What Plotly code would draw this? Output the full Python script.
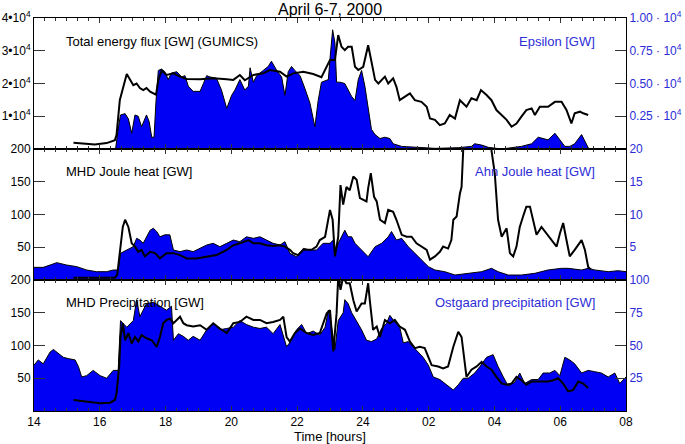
import plotly.graph_objects as go

# ---------------- data (hours since 00 UT April 6; >24 = April 7) ----------------
t_flux = [15.20, 15.50, 15.85, 16.21, 16.46, 16.51, 16.61, 16.82, 16.92, 17.02, 17.12, 17.22, 17.32, 17.42,
          17.53, 17.63, 17.71, 17.78, 17.88, 18.03, 18.24, 18.44, 18.64, 19.05, 19.45, 19.86, 20.06, 20.26,
          20.41, 20.67, 20.97, 21.17, 21.48, 21.68, 21.88, 22.19, 22.49, 22.74, 22.90, 23.00, 23.15, 23.25,
          23.35, 23.45, 23.55, 23.66, 23.76, 23.86, 24.01, 24.16, 24.26, 24.37, 24.47, 24.57, 24.67, 24.77,
          24.92, 25.02, 25.12, 25.28, 25.43, 25.58, 25.78, 25.94, 26.04, 26.19, 26.34, 26.49, 26.64, 26.80,
          26.95, 27.15, 27.30, 27.46, 27.59, 27.76, 27.91, 28.06, 28.22, 28.37, 28.52, 28.67, 28.82, 28.97,
          29.13, 29.23, 29.38, 29.63, 29.84, 30.04, 30.19, 30.34, 30.44, 30.60, 30.70, 30.85]
flux_gw = [1900, 1700, 1400, 1800, 2700, 4300, 15000, 22900, 21000, 19500, 20000, 18600, 18000, 18600,
           17500, 17000, 16600, 21000, 23900, 22600, 23100, 22100, 21400, 21300, 21600, 21300, 21100, 22600,
           21000, 22600, 23100, 24100, 23600, 22100, 23100, 23600, 22900, 21900, 25100, 27200, 27200, 34800,
           31200, 30200, 31200, 31200, 25100, 24100, 25100, 31700, 26700, 21100, 20000, 21100, 22100, 20000,
           21600, 19000, 14900, 16000, 17000, 14900, 14400, 12900, 9300, 8900, 7300, 7800, 10400, 9300,
           14900, 12900, 15500, 14900, 18000, 16500, 14900, 11900, 10400, 8900, 6800, 7800, 9900, 11900,
           12400, 10400, 12900, 12900, 14400, 14400, 11900, 7800, 10900, 11400, 10900, 10400]

t_eps = [14.00, 16.48, 16.57, 16.63, 16.77, 16.87, 16.97, 17.07, 17.17, 17.27, 17.42, 17.50, 17.58, 17.65,
         17.71, 17.78, 17.88, 17.98, 18.08, 18.18, 18.34, 18.49, 18.59, 18.69, 18.84, 19.05, 19.15, 19.25,
         19.35, 19.55, 19.70, 19.86, 20.01, 20.11, 20.26, 20.41, 20.52, 20.57, 20.67, 20.77, 20.97, 21.12,
         21.22, 21.38, 21.53, 21.63, 21.73, 21.83, 21.93, 22.09, 22.24, 22.39, 22.54, 22.64, 22.74, 22.95,
         23.00, 23.08, 23.15, 23.20, 23.30, 23.45, 23.66, 23.76, 23.86, 23.96, 24.06, 24.16, 24.26, 24.37,
         24.52, 24.67, 24.82, 24.92, 25.18, 26.19, 26.90, 27.30, 27.40, 27.61, 27.81, 28.22, 28.82, 29.13,
         29.33, 29.63, 29.84, 29.99, 30.14, 30.29, 30.44, 30.65, 30.80, 30.87, 32.00]
eps_gw = [0, 0, 1700, 2600, 2700, 2300, 1200, 2600, 2500, 1700, 2600, 2100, 900, 900,
          3700, 6000, 6100, 5900, 5300, 5800, 5900, 5500, 5600, 4800, 4400, 4400, 5000, 5600,
          5500, 5400, 4500, 3100, 4100, 4500, 5300, 4500, 4800, 6200, 5100, 5600, 6000, 6300,
          6700, 6000, 5500, 4100, 5900, 6300, 6000, 5600, 4600, 3500, 1700, 3700, 5100, 5300,
          6900, 9100, 8100, 5100, 5100, 5000, 4000, 3700, 5300, 6000, 4800, 3000, 1500, 1100,
          800, 900, 800, 400, 200, 50, 100, 200, 400, 300, 130, 0, 200, 400,
          900, 700, 1200, 700, 200, 200, 400, 1100, 400, 0, 0]

t_mhdj = [15.20, 16.46, 16.53, 16.59, 16.70, 16.77, 16.87, 16.97, 17.07, 17.17, 17.27, 17.37, 17.53, 17.68,
          17.83, 18.03, 18.24, 18.44, 18.64, 18.94, 19.25, 19.55, 19.86, 20.06, 20.26, 20.52, 20.67, 20.87,
          21.07, 21.27, 21.48, 21.63, 21.78, 21.88, 22.03, 22.19, 22.44, 22.59, 22.69, 22.85, 23.00, 23.08,
          23.15, 23.25, 23.32, 23.40, 23.50, 23.60, 23.71, 23.81, 23.91, 24.01, 24.11, 24.16, 24.24, 24.34,
          24.42, 24.52, 24.67, 24.77, 24.92, 25.02, 25.18, 25.33, 25.48, 25.63, 25.78, 25.94, 26.04, 26.19,
          26.34, 26.44, 26.59, 26.69, 26.75, 26.85, 26.95, 27.00, 27.05, 27.12, 27.81, 27.91, 28.01, 28.11,
          28.22, 28.32, 28.37, 28.47, 28.57, 28.67, 28.77, 28.87, 28.97, 29.08, 29.18, 29.28, 29.43, 29.58,
          29.73, 29.89, 29.99, 30.09, 30.19, 30.29, 30.44, 30.65, 30.75, 30.85, 30.93]
mhdj_gw = [3.6, 3.6, 7.6, 30.5, 81, 92, 81, 56, 51, 43, 46, 36, 43, 41,
           33, 41, 41, 38, 33, 33, 36, 38, 46, 53, 56, 61, 56, 56,
           53, 52, 53, 51, 46, 41, 38, 46, 46, 51, 61, 66, 107, 92,
           36, 66, 145, 115, 142, 137, 158, 153, 125, 122, 120, 140, 163, 127,
           120, 92, 87, 107, 104, 92, 69, 66, 66, 56, 51, 46, 31, 36,
           43, 51, 48, 61, 92, 97, 132, 142, 198, 280, 280, 198, 163, 92,
           66, 76, 79, 41, 36, 51, 81, 97, 112, 112, 92, 69, 81, 71,
           61, 51, 71, 87, 61, 36, 46, 61, 46, 20, 16]

t_ahn = [14.00, 14.28, 14.49, 14.69, 14.99, 15.30, 15.60, 15.90, 16.21, 16.41, 16.56, 16.63, 16.82, 17.02,
         17.12, 17.22, 17.32, 17.42, 17.53, 17.63, 17.73, 17.83, 17.98, 18.13, 18.24, 18.44, 18.64, 18.84,
         19.05, 19.25, 19.45, 19.65, 19.86, 20.06, 20.26, 20.46, 20.67, 20.87, 21.07, 21.27, 21.48, 21.63,
         21.78, 21.98, 22.19, 22.39, 22.59, 22.79, 23.00, 23.10, 23.15, 23.25, 23.45, 23.55, 23.66, 23.76,
         23.96, 24.16, 24.37, 24.57, 24.77, 24.87, 25.02, 25.18, 25.38, 25.58, 25.78, 25.99, 26.19, 26.49,
         26.80, 27.20, 27.61, 27.91, 28.11, 28.42, 28.82, 29.23, 29.63, 30.04, 30.24, 30.65, 30.85, 31.05,
         31.46, 31.76, 32.00]
ahn_gw = [1.93, 1.93, 2.29, 2.65, 2.29, 2.04, 1.53, 1.27, 1.27, 1.53, 1.53, 4.07, 4.58, 5.09,
          6.36, 6.1, 5.6, 6.6, 7.6, 7.9, 7.4, 6.6, 6.9, 6.9, 4.58, 4.33, 4.58, 4.33,
          4.83, 5.34, 5.6, 5.09, 5.6, 6.1, 5.85, 6.6, 6.36, 6.6, 6.1, 5.6, 5.34, 5.85,
          4.07, 3.56, 4.83, 4.58, 4.58, 5.6, 5.6, 6.1, 3.82, 5.6, 7.6, 6.6, 6.6, 5.6,
          4.58, 3.56, 5.09, 5.6, 6.6, 7.4, 6.1, 6.36, 5.09, 4.07, 3.05, 2.04, 1.53, 1.27,
          0.76, 1.02, 1.27, 1.78, 1.27, 0.76, 0.76, 1.02, 1.53, 1.78, 1.78, 1.53, 1.78, 1.53,
          1.27, 1.42, 1.27]

t_mhdp = [15.20, 15.50, 15.80, 16.01, 16.31, 16.46, 16.51, 16.59, 16.63, 16.70, 16.77, 16.87, 16.97, 17.07,
          17.17, 17.27, 17.42, 17.58, 17.73, 17.83, 17.93, 18.03, 18.13, 18.24, 18.34, 18.44, 18.54, 18.64,
          18.84, 19.05, 19.25, 19.45, 19.65, 19.86, 20.06, 20.26, 20.46, 20.67, 20.87, 21.07, 21.27, 21.48,
          21.58, 21.68, 21.78, 21.93, 22.09, 22.29, 22.49, 22.69, 22.90, 23.00, 23.10, 23.20, 23.25, 23.32,
          23.40, 23.50, 23.60, 23.71, 23.81, 23.96, 24.06, 24.16, 24.21, 24.31, 24.42, 24.52, 24.67, 24.82,
          24.97, 25.12, 25.28, 25.43, 25.58, 25.73, 25.88, 25.99, 26.09, 26.29, 26.44, 26.59, 26.75, 26.90,
          27.00, 27.15, 27.30, 27.46, 27.61, 27.76, 27.91, 28.06, 28.22, 28.37, 28.52, 28.67, 28.82, 28.97,
          29.13, 29.28, 29.43, 29.63, 29.79, 29.94, 30.09, 30.24, 30.39, 30.55, 30.70, 30.85]
mhdp_gw = [16.8, 15.3, 12.7, 11.7, 12.7, 16.8, 27, 68, 113, 134, 108, 119, 103, 113,
           106, 116, 111, 108, 98, 113, 134, 139, 141, 134, 139, 144, 134, 131,
           129, 131, 124, 134, 126, 119, 134, 136, 144, 139, 139, 134, 136, 139,
           144, 113, 106, 119, 126, 119, 116, 119, 149, 154, 91, 149, 205, 185,
           205, 195, 195, 169, 152, 164, 164, 195, 169, 124, 129, 113, 139, 134,
           139, 129, 124, 106, 96, 98, 96, 83, 70, 68, 65, 68, 98, 121,
           113, 52, 63, 68, 75, 68, 63, 52, 42, 40, 42, 52, 47, 40,
           45, 45, 45, 45, 47, 50, 42, 30, 32, 45, 42, 35]

t_ost = [14.00, 14.13, 14.28, 14.49, 14.59, 14.74, 14.89, 15.04, 15.25, 15.35, 15.45, 15.60, 15.80, 16.01,
         16.21, 16.41, 16.56, 16.63, 16.82, 17.02, 17.12, 17.22, 17.42, 17.63, 17.83, 18.03, 18.18, 18.24,
         18.39, 18.54, 18.69, 18.84, 19.05, 19.25, 19.45, 19.65, 19.86, 20.06, 20.26, 20.46, 20.67, 20.87,
         21.07, 21.27, 21.48, 21.68, 21.83, 21.98, 22.14, 22.29, 22.49, 22.69, 22.85, 22.95, 23.05, 23.15,
         23.25, 23.40, 23.45, 23.55, 23.66, 23.81, 23.96, 24.11, 24.26, 24.42, 24.57, 24.72, 24.82, 24.97,
         25.12, 25.23, 25.38, 25.53, 25.68, 25.83, 25.99, 26.14, 26.34, 26.54, 26.75, 26.90, 27.05, 27.20,
         27.40, 27.56, 27.76, 27.96, 28.11, 28.27, 28.42, 28.62, 28.77, 28.92, 29.13, 29.33, 29.48, 29.68,
         29.84, 29.99, 30.14, 30.29, 30.44, 30.65, 30.85, 31.05, 31.25, 31.46, 31.66, 31.81, 31.91, 32.00]
ost_gw = [35, 39, 36, 45, 47, 44, 41, 40, 39, 34, 26, 27, 31, 27,
          25, 31, 31, 69, 64, 69, 85, 72, 82, 83, 80, 77, 80, 54,
          59, 57, 54, 57, 54, 62, 67, 62, 63, 64, 69, 66, 64, 63,
          64, 59, 66, 49, 54, 62, 66, 59, 61, 58, 64, 77, 64, 47,
          69, 75, 85, 82, 75, 69, 62, 54, 53, 55, 63, 67, 73, 68,
          64, 52, 53, 49, 45, 41, 35, 26, 24, 20, 16, 20, 25, 25,
          29, 34, 41, 43, 34, 26, 19, 22, 29, 21, 24, 24, 29, 29,
          31, 27, 41, 39, 36, 29, 31, 30, 29, 26, 29, 21, 24, 26]

x_labels = {"26": "02", "28": "04", "30": "06", "32": "08"}

flux_ticks = [10000, 20000, 30000, 40000]
flux_text = ["1\u202210<sup>4</sup>", "2\u202210<sup>4</sup>", "3\u202210<sup>4</sup>", "4\u202210<sup>4</sup>"]
eps_ticks = [2500, 5000, 7500, 10000]
eps_text = ["0.25 \u00b7 10<sup>4</sup>", "0.50 \u00b7 10<sup>4</sup>", "0.75 \u00b7 10<sup>4</sup>",
            "1.00 \u00b7 10<sup>4</sup>"]
left_ticks = [50, 100, 150, 200]
ahn_ticks = [5, 10, 15, 20]
ost_ticks = [25, 50, 75, 100]

# ---------------- styles ----------------
BLUE_FILL = "rgb(0,0,245)"
BLUE_TXT = "rgb(45,45,215)"
FONT = "Liberation Sans, Arial, sans-serif"
TICKC = "#333333"

fig = go.Figure()

def fill_trace(x, y, ya, xa):
    return go.Scatter(x=x, y=y, xaxis=xa, yaxis=ya, mode="lines", fill="tozeroy",
                      fillcolor=BLUE_FILL, line=dict(color="black", width=1),
                      hoverinfo="skip", showlegend=False)

def line_trace(x, y, ya, xa):
    return go.Scatter(x=x, y=y, xaxis=xa, yaxis=ya, mode="lines",
                      line=dict(color="black", width=2), showlegend=False)

fig.add_trace(fill_trace(t_eps, eps_gw, "y", "x"))
fig.add_trace(fill_trace(t_ahn, ahn_gw, "y3", "x2"))
fig.add_trace(fill_trace(t_ost, ost_gw, "y5", "x3"))
fig.add_trace(line_trace(t_flux, flux_gw, "y2", "x"))
fig.add_trace(line_trace(t_mhdj, mhdj_gw, "y4", "x2"))
fig.add_trace(line_trace(t_mhdp, mhdp_gw, "y6", "x3"))

def xax(anchor, labels):
    return dict(domain=[0, 1], anchor=anchor, range=[14, 32], tickmode="linear", tick0=14, dtick=2,
                labelalias=x_labels, showticklabels=labels, ticks="inside", ticklen=5,
                tickcolor=TICKC, showline=True, linecolor="black", linewidth=1, mirror="ticks",
                showgrid=False, zeroline=False, automargin=False, fixedrange=True,
                tickfont=dict(size=12, color="black", family=FONT),
                minor=dict(ticks="inside", ticklen=3, tickmode="linear", tick0=14, dtick=1 / 3,
                           tickcolor=TICKC, showgrid=False))

def yax(domain, rng, vals, text, side, color, anchor, overlay=None):
    d = dict(range=rng, tickmode="array", tickvals=vals, ticktext=text, side=side, anchor=anchor,
             ticks="inside", ticklen=11, tickcolor=TICKC, showline=True, linecolor="black",
             linewidth=1, showgrid=False, zeroline=False, automargin=False, fixedrange=True,
             tickfont=dict(size=12, color=color, family=FONT))
    if overlay:
        d["overlaying"] = overlay
    else:
        d["domain"] = domain
    return d

fig.update_layout(
    width=685, height=444,
    template="none",
    paper_bgcolor="white", plot_bgcolor="white",
    margin=dict(l=34, r=59, t=18, b=33),
    font=dict(family=FONT, size=12, color="black"),
    showlegend=False,
    hovermode=False,
    xaxis=xax("y", False),
    xaxis2=xax("y3", False),
    xaxis3=xax("y5", True),
    yaxis=yax([2 / 3, 1], [0, 10000], eps_ticks, eps_text, "right", BLUE_TXT, "x"),
    yaxis2=yax(None, [0, 40000], flux_ticks, flux_text, "left", "black", "x", "y"),
    yaxis3=yax([1 / 3, 2 / 3], [0, 20], ahn_ticks, [str(v) for v in ahn_ticks], "right", BLUE_TXT, "x2"),
    yaxis4=yax(None, [0, 200], left_ticks, [str(v) for v in left_ticks], "left", "black", "x2", "y3"),
    yaxis5=yax([0, 1 / 3], [0, 100], ost_ticks, [str(v) for v in ost_ticks], "right", BLUE_TXT, "x3"),
    yaxis6=yax(None, [0, 200], left_ticks, [str(v) for v in left_ticks], "left", "black", "x3", "y5"),
)

def ann(text, x, y, xanchor, color="black", size=13):
    return dict(text=text, x=x, y=y, xref="paper", yref="paper", xanchor=xanchor, yanchor="middle",
                showarrow=False, font=dict(size=size, color=color, family=FONT))

# pixel-derived paper positions: plot area x 34..626, y 18..411
def px(xp):
    return (xp - 34) / 592.0

def py(yp):
    return (411 - yp) / 393.0

fig.update_layout(annotations=[
    ann("April 6-7, 2000", 0.5, py(9), "center", size=16),
    ann("Time [hours]", 0.5, py(436), "center", size=13),
    ann("Total energy flux [GW] (GUMICS)", px(64), py(41), "left"),
    ann("Epsilon [GW]", px(597), py(41), "right", BLUE_TXT),
    ann("MHD Joule heat [GW]", px(64), py(172), "left"),
    ann("Ahn Joule heat [GW]", px(597), py(172), "right", BLUE_TXT),
    ann("MHD Precipitation [GW]", px(64), py(302), "left"),
    ann("Ostgaard precipitation [GW]", px(597), py(302), "right", BLUE_TXT),
])

fig.write_html("out.html", config={"displayModeBar": False, "staticPlot": True},
               post_script="document.body.style.margin='0px';document.body.style.overflow='hidden';")
